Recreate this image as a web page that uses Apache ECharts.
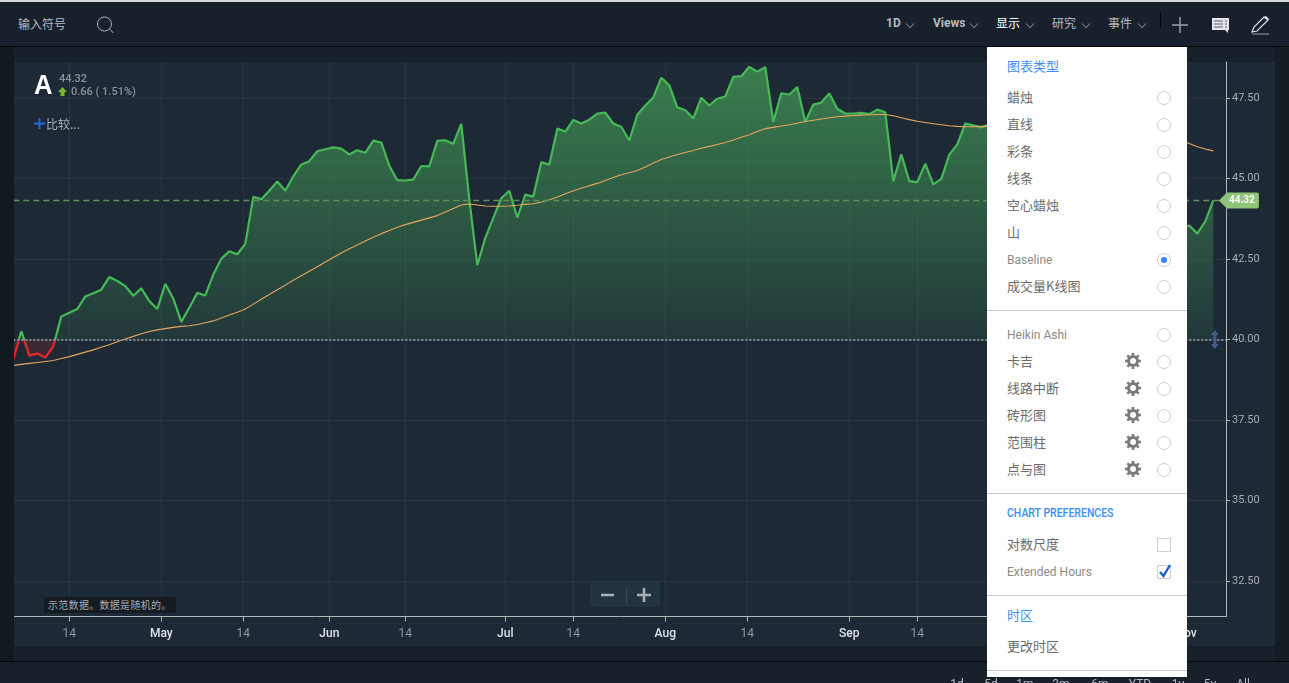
<!DOCTYPE html>
<html>
<head>
<meta charset="utf-8">
<script src="https://cdnjs.cloudflare.com/ajax/libs/echarts/6.0.0/echarts.min.js"></script>
<style>
html,body{margin:0;padding:0;width:1289px;height:683px;overflow:hidden;background:#18212a;font-family:"Noto Sans CJK SC",Roboto,sans-serif;}
.abs{position:absolute;white-space:nowrap;line-height:1;}
#topline{left:0;top:0;width:1289px;height:2px;background:#d4d6d8;}
#toolbar{left:0;top:2px;width:1289px;height:44px;background:#18212b;border-bottom:1px solid #050709;}
#leftshade{left:0;top:47px;width:14px;height:614px;background:#121a21;}
#panel{left:14px;top:62px;width:1261px;height:584px;background:#1d2a36;}
#rightshade{left:1275px;top:47px;width:14px;height:614px;background:#141c24;}
#bottomline{left:0;top:661px;width:1289px;height:1px;background:#050709;}
#main{position:absolute;left:0;top:0;width:1289px;height:683px;}
.tool{font-size:12px;color:#b4bac0;top:17px;}
.chev{position:absolute;width:5px;height:5px;border-right:1px solid #6f7a84;border-bottom:1px solid #6f7a84;transform:rotate(45deg);top:21px;}
#menu{left:987px;top:47px;width:200px;height:630px;background:#fff;}
.item{position:absolute;left:20px;font-size:13px;color:#6b6b6b;line-height:1;white-space:nowrap;}
.latin{font-family:Roboto,sans-serif;font-size:12px;color:#8b8b8b;margin-top:1.5px;}
.head{color:#3b8ef3;}
.narrow{transform:scaleX(.875);transform-origin:left center;font-weight:500;}
.radio{position:absolute;left:170px;width:12px;height:12px;border:1px solid #cfcfcf;border-radius:50%;}
.radio.on:after{content:"";position:absolute;left:3px;top:3px;width:6px;height:6px;border-radius:50%;background:#2f86f5;}
.gear{position:absolute;left:138px;width:16px;height:16px;}
.sep{position:absolute;left:0;width:200px;height:1px;background:#cacaca;}
.check{position:absolute;left:170px;width:12px;height:12px;border:1px solid #cfcfcf;}
.range{font-family:Roboto,sans-serif;font-size:12px;color:#b4bac0;top:678px;transform:translateX(-50%);}
</style>
</head>
<body>
<div class="abs" id="panel"></div>
<div class="abs" id="rightshade"></div>
<div class="abs" id="bottomline"></div>
<div id="main"></div>
<div class="abs" id="leftshade"></div>

<div class="abs" id="topline"></div>
<div class="abs" id="toolbar"></div>
<div class="abs" style="left:18px;top:18px;font-size:12px;color:#b4bac0;">输入符号</div>
<svg class="abs" style="left:95px;top:15px;" width="20" height="20"><circle cx="9.5" cy="9" r="7" fill="none" stroke="#aab0b6" stroke-width="1"/><line x1="14.5" y1="14" x2="18.5" y2="18" stroke="#aab0b6"/></svg>
<div class="abs tool" style="left:886px;font-family:Roboto;font-weight:700;">1D</div><div class="chev" style="left:907px;"></div>
<div class="abs tool" style="left:933px;font-family:Roboto;font-weight:700;">Views</div><div class="chev" style="left:971px;"></div>
<div class="abs tool" style="left:996px;color:#fff;">显示</div><div class="chev" style="left:1027px;"></div>
<div class="abs tool" style="left:1052px;">研究</div><div class="chev" style="left:1083px;"></div>
<div class="abs tool" style="left:1108px;">事件</div><div class="chev" style="left:1139px;"></div>
<div class="abs" style="left:1160px;top:12px;width:1px;height:16px;background:#050709;"></div>
<svg class="abs" style="left:1171px;top:16px;" width="18" height="18"><path d="M9 1V17M1 9H17" stroke="#9aa0a6" stroke-width="1.5"/></svg>
<svg class="abs" style="left:1211px;top:17px;" width="19" height="17"><path d="M1 1H18V13H17V16L14 13H1Z" fill="#e4e6e8"/><path d="M3 4H12M14 4H16M3 7H12M14 7H16M3 10H12M14 10H16" stroke="#59616a" stroke-width="1"/></svg>
<svg class="abs" style="left:1251px;top:15px;" width="20" height="20"><path d="M1 17L3 12L13 2L17 5L6 16Z" fill="none" stroke="#e4e6e8" stroke-width="1.2"/><path d="M13 2L15 1L18 4L17 5Z" fill="#e4e6e8"/><path d="M1 19H18" stroke="#9aa0a6"/></svg>

<div class="abs" style="left:34px;top:72px;font-size:27px;font-family:'Liberation Sans Narrow','Liberation Sans';font-weight:700;color:#fff;transform:scaleX(.95);transform-origin:left;">A</div>
<div class="abs" style="left:59px;top:73px;font-family:Roboto;font-weight:500;font-size:11px;color:#8a939b;">44.32</div>
<svg class="abs" style="left:58px;top:87px;" width="10" height="10"><path d="M4.5 0L9 5H6.5V9H2.5V5H0Z" fill="#7cb82f"/></svg>
<div class="abs" style="left:71px;top:86px;font-family:Roboto;font-weight:500;font-size:11px;color:#8a939b;">0.66 ( 1.51%)</div>
<svg class="abs" style="left:34px;top:118px;" width="11" height="11"><path d="M5.5 0V11M0 5.5H11" stroke="#1f69dc" stroke-width="2"/></svg>
<div class="abs" style="left:46px;top:118px;font-size:12px;color:#a9afb5;">比较...</div>

<div class="abs" style="left:44px;top:597px;padding:3px 4px;width:124px;font-size:10px;color:#a9afb5;background:#141b21;letter-spacing:.3px;">示范数据。数据是随机的。</div>
<div class="abs" style="left:590px;top:582px;width:70px;height:25px;background:#233441;border-radius:3px;"></div>
<div class="abs" style="left:626px;top:586px;width:1px;height:17px;background:#3a4a57;"></div>
<svg class="abs" style="left:600px;top:588px;" width="52" height="14"><path d="M1 7H14M37 7H51M44 0V14" stroke="#a9afb5" stroke-width="2.6"/></svg>

<div id="ranges"></div>
<div class="abs" id="menu"></div>

<script type="text/javascript">
// values, one per trading day. null = hidden behind the menu
var closes = [
    39.38,40.26,39.50,39.57,39.44,39.79,40.72,40.83,40.95,41.34,
    41.44,41.55,41.94,41.82,41.66,41.36,41.59,41.20,40.95,41.73,
    41.27,40.55,40.99,41.45,41.37,42.02,42.51,42.74,42.65,42.97,
    44.43,44.36,44.62,44.91,44.62,45.07,45.44,45.54,45.85,45.91,
    45.97,45.93,45.75,45.88,45.80,46.18,46.12,45.40,44.95,44.94,
    44.97,45.39,45.38,46.17,46.19,46.08,46.70,44.35,42.31,43.16,
    43.78,44.39,44.62,43.79,44.50,44.44,45.51,45.43,46.55,46.46,
    46.82,46.71,46.83,47.02,47.05,46.71,46.61,46.18,46.98,47.27,
    47.52,48.13,47.90,47.21,47.12,46.87,47.51,47.27,47.48,47.55,
    48.16,48.18,48.47,48.32,48.46,46.76,47.65,47.61,47.84,46.76,
    47.30,47.36,47.64,47.17,47.02,47.02,47.04,47.00,47.14,47.06,
    44.92,45.75,44.92,44.89,45.46,44.82,44.99,45.74,46.06,46.71,
    46.65,46.59,46.68,null,null,null,null,null,null,null,
    null,null,null,null,null,null,null,null,null,null,
    null,null,null,null,null,null,43.45,43.54,43.29,43.67,
    44.32
];
var averages = [
    39.20,39.23,39.26,39.29,39.32,39.35,39.41,39.47,39.54,39.61,
    39.68,39.76,39.84,39.93,40.02,40.10,40.18,40.25,40.30,40.34,
    40.38,40.41,40.43,40.47,40.52,40.58,40.67,40.76,40.85,40.95,
    41.10,41.25,41.40,41.55,41.69,41.84,41.98,42.12,42.26,42.41,
    42.55,42.69,42.82,42.94,43.06,43.18,43.29,43.39,43.49,43.57,
    43.64,43.71,43.78,43.85,43.96,44.07,44.18,44.21,44.18,44.15,
    44.14,44.14,44.15,44.17,44.20,44.22,44.27,44.34,44.43,44.53,
    44.62,44.70,44.78,44.85,44.94,45.03,45.12,45.18,45.25,45.36,
    45.48,45.59,45.67,45.75,45.81,45.87,45.94,46.00,46.06,46.12,
    46.20,46.28,46.36,46.46,46.55,46.59,46.63,46.67,46.72,46.77,
    46.81,46.85,46.89,46.92,46.94,46.96,46.97,46.98,46.99,46.99,
    46.95,46.89,46.83,46.78,46.74,46.70,46.67,46.64,46.62,46.61,
    46.61,46.62,46.63,null,null,null,null,null,null,null,
    null,null,null,null,null,null,null,null,null,null,
    null,null,null,null,null,null,46.20,46.09,45.99,45.92,
    45.86
];
var lastPrice = 44.32;
var baseline = 40;
var xTickPos = [7, 18.5, 28.75, 39.5, 49, 61.5, 70, 81.5, 91.75, 104.5, 113, 146.6];
var xTickLabels = ['14', 'May', '14', 'Jun', '14', 'Jul', '14', 'Aug', '14', 'Sep', '14', 'Nov'];
var yTicks = [32.5, 35, 37.5, 40, 42.5, 45, 47.5];
var rangeLabels = ['1d', '5d', '1m', '3m', '6m', 'YTD', '1y', '5y', 'All'];
var rangeLeft = [957, 991, 1025, 1061, 1100, 1140, 1178, 1210, 1243];

var chartTypes = ['蜡烛', '直线', '彩条', '线条', '空心蜡烛', '山', 'Baseline', '成交量K线图'];
var chartTypes2 = ['Heikin Ashi', '卡吉', '线路中断', '砖形图', '范围柱', '点与图'];

function seriesData(list) {
    var out = [];
    for (var i = 0; i < list.length; i++) {
        out.push([i, list[i]]);
    }
    return out;
}

// side menu
var menu = document.getElementById('menu');
function addItem(text, y, cls) {
    var d = document.createElement('div');
    d.className = 'item' + (cls ? ' ' + cls : '');
    d.style.top = (y - 47 - 7) + 'px';
    d.textContent = text;
    menu.appendChild(d);
}
function addRadio(y, on) {
    var d = document.createElement('div');
    d.className = 'radio' + (on ? ' on' : '');
    d.style.top = (y - 47 - 6) + 'px';
    menu.appendChild(d);
}
function addSep(y) {
    var d = document.createElement('div');
    d.className = 'sep';
    d.style.top = (y - 47) + 'px';
    menu.appendChild(d);
}
function addGear(y) {
    var ns = 'http://www.w3.org/2000/svg';
    var s = document.createElementNS(ns, 'svg');
    s.setAttribute('class', 'gear');
    s.setAttribute('viewBox', '0 0 16 16');
    s.style.top = (y - 47 - 8) + 'px';
    var c = document.createElementNS(ns, 'circle');
    c.setAttribute('cx', 8); c.setAttribute('cy', 8); c.setAttribute('r', 4.5);
    c.setAttribute('fill', 'none'); c.setAttribute('stroke', '#7b7b7b'); c.setAttribute('stroke-width', 3);
    s.appendChild(c);
    var p = document.createElementNS(ns, 'path');
    p.setAttribute('d', 'M8 0V3M8 13V16M0 8H3M13 8H16M2.3 2.3L4.4 4.4M11.6 11.6L13.7 13.7M13.7 2.3L11.6 4.4M4.4 11.6L2.3 13.7');
    p.setAttribute('stroke', '#7b7b7b'); p.setAttribute('stroke-width', 2.6);
    s.appendChild(p);
    menu.appendChild(s);
}
addItem('图表类型', 66, 'head');
for (var i = 0; i < chartTypes.length; i++) {
    var y = 97 + 27 * i;
    addItem(chartTypes[i], y, chartTypes[i] == 'Baseline' ? 'latin' : '');
    addRadio(y, chartTypes[i] == 'Baseline');
}
addSep(310);
for (var i = 0; i < chartTypes2.length; i++) {
    var y = 334 + 27 * i;
    addItem(chartTypes2[i], y, i == 0 ? 'latin' : '');
    addRadio(y, false);
    if (i > 0) addGear(y);
}
addSep(493);
addItem('CHART PREFERENCES', 512, 'latin head narrow');
addItem('对数尺度', 544);
addItem('Extended Hours', 571, 'latin');
var box1 = document.createElement('div');
box1.className = 'check';
box1.style.top = (544 - 47 - 6) + 'px';
menu.appendChild(box1);
var box2 = document.createElement('div');
box2.className = 'check';
box2.style.top = (571 - 47 - 6) + 'px';
box2.innerHTML = '<svg width="14" height="14" style="position:absolute;left:0;top:-2px"><path d="M2 8L5.5 12L12 1" fill="none" stroke="#1f5fc9" stroke-width="2.4"/></svg>';
menu.appendChild(box2);
addSep(595);
addItem('时区', 615, 'head');
addItem('更改时区', 646);
addSep(670);

// range buttons, cut off by the window
var ranges = document.getElementById('ranges');
for (var i = 0; i < rangeLabels.length; i++) {
    var r = document.createElement('div');
    r.className = 'abs range';
    r.style.left = rangeLeft[i] + 'px';
    r.textContent = rangeLabels[i];
    ranges.appendChild(r);
}

var chart = echarts.init(document.getElementById('main'));

// green above the baseline, red below it, position in page pixels
var areaColor = new echarts.graphic.LinearGradient(0, 62, 0, 366, [
    {offset: 0, color: 'rgba(63,140,82,0.88)'},
    {offset: 0.914, color: 'rgba(63,140,82,0.15)'},
    {offset: 0.914, color: 'rgba(220,40,50,0.17)'},
    {offset: 1, color: 'rgba(220,40,50,0.17)'}
], true);

chart.setOption({
    animation: false,
    backgroundColor: 'transparent',
    textStyle: {fontFamily: 'Roboto'},
    grid: {left: 13.3, top: 62, width: 1212.7, height: 554.5, containLabel: false},
    xAxis: {
        type: 'value',
        min: 0,
        max: 151.59,
        axisLine: {show: true, onZero: false, lineStyle: {color: '#b5b8ba', width: 1}},
        axisTick: {show: true, length: 5, lineStyle: {color: '#b5b8ba'}, customValues: xTickPos},
        splitLine: {show: true, lineStyle: {color: '#26353f', width: 1}},
        axisLabel: {
            customValues: xTickPos,
            margin: 11,
            fontSize: 12,
            fontFamily: 'Roboto',
            formatter: function (value) {
                var name = xTickLabels[xTickPos.indexOf(value)];
                return name == '14' ? '{d|' + name + '}' : '{m|' + name + '}';
            },
            rich: {
                d: {color: '#8f979e', fontSize: 12, fontFamily: 'Roboto'},
                m: {color: '#dfe3e6', fontSize: 12, fontFamily: 'Roboto', fontWeight: 500}
            }
        }
    },
    yAxis: {
        type: 'value',
        position: 'right',
        min: 31.4,
        max: 48.62,
        axisLine: {show: true, onZero: false, lineStyle: {color: '#b5b8ba', width: 1}},
        axisTick: {show: true, length: 4, lineStyle: {color: '#b5b8ba'}, customValues: yTicks},
        splitLine: {show: true, lineStyle: {color: '#26353f', width: 1}},
        axisLabel: {
            customValues: yTicks,
            margin: 6,
            padding: [4, 0, 0, 0],
            color: '#a9adb1',
            fontSize: 11,
            fontFamily: 'Roboto',
            formatter: function (value) {
                return value.toFixed(2);
            }
        }
    },
    visualMap: {
        show: false,
        seriesIndex: 0,
        dimension: 1,
        pieces: [
            {gte: 20, lt: baseline, color: '#e8262c'},
            {gte: baseline, lte: 60, color: '#45b955'}
        ]
    },
    series: [
        {
            name: 'Baseline',
            type: 'line',
            data: seriesData(closes),
            showSymbol: false,
            lineStyle: {width: 2.2},
            areaStyle: {origin: baseline, color: areaColor, opacity: 1},
            markLine: {
                silent: true,
                symbol: ['none', 'none'],
                label: {show: false},
                data: [
                    {yAxis: lastPrice, lineStyle: {color: '#5f9059', type: [6, 4], width: 1.3}},
                    {yAxis: baseline, lineStyle: {color: '#868e96', type: [2, 2], width: 2}}
                ]
            },
            markPoint: {
                silent: true,
                data: [
                    {
                        // price tag
                        coord: [150.7, lastPrice],
                        symbol: 'path://M0,8 L8,0 L38,0 Q40,0 40,2 L40,14 Q40,16 38,16 L8,16 Z',
                        symbolSize: [40, 16],
                        symbolOffset: [20, 0],
                        itemStyle: {color: '#8fc47a'},
                        label: {show: true, formatter: String(lastPrice), color: '#fff', fontSize: 10, fontWeight: 700, fontFamily: 'Roboto', offset: [3, 0]}
                    },
                    {
                        // drag handle of the baseline
                        coord: [150.2, baseline],
                        symbol: 'path://M4,0 L8,5 L5.5,5 L5.5,14 L8,14 L4,19 L0,14 L2.5,14 L2.5,5 L0,5 Z',
                        symbolSize: [8, 19],
                        itemStyle: {color: '#3f5c8c'},
                        label: {show: false}
                    }
                ]
            }
        },
        {
            name: 'MA',
            type: 'line',
            data: seriesData(averages),
            showSymbol: false,
            lineStyle: {color: '#e8a55c', width: 1.1}
        }
    ]
});
</script>
</body>
</html>
